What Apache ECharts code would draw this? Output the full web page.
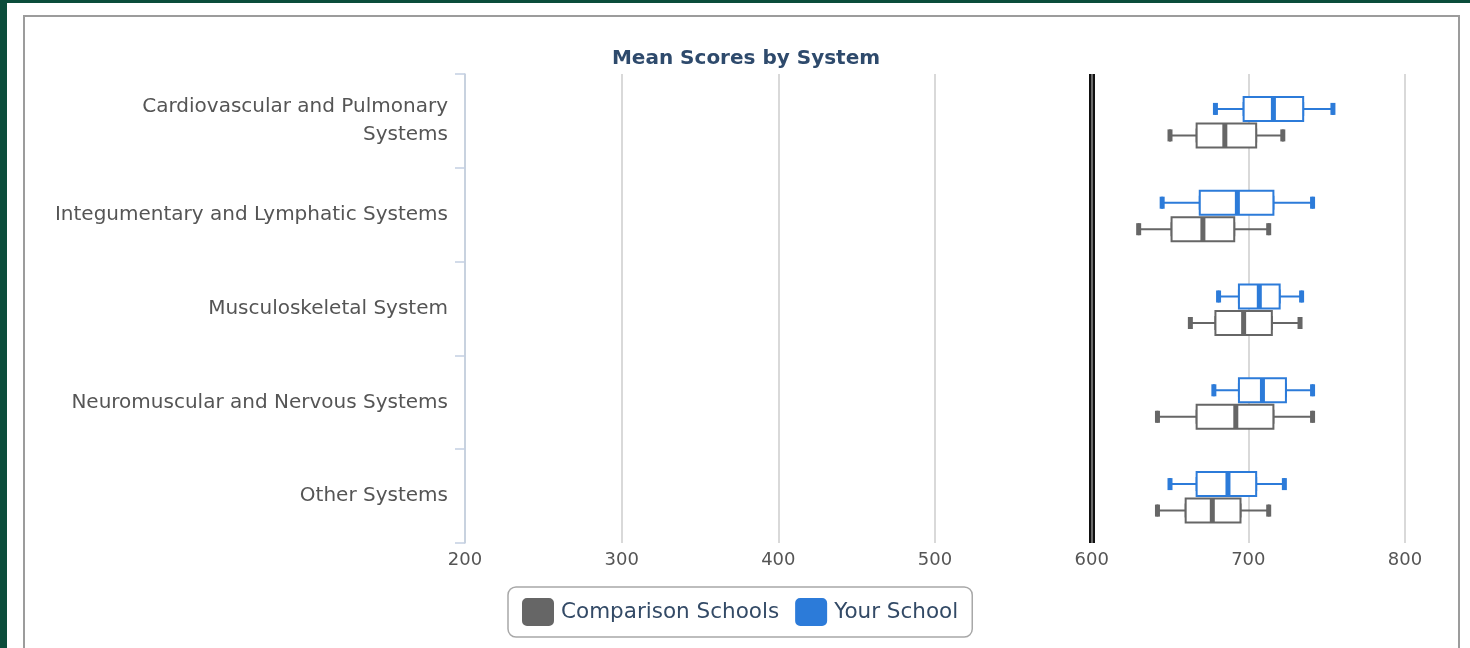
<!DOCTYPE html>
<html>
<head>
<meta charset="utf-8">
<script src="https://cdn.jsdelivr.net/npm/echarts@6/dist/echarts.min.js"></script>
<style>
  html, body { margin: 0; padding: 0; background: #0b4d3b; width: 1470px; height: 648px; overflow: hidden; }
  #sheet { position: absolute; left: 7px; top: 3px; right: 0; bottom: 0; background: #fff; }
  #frame { position: absolute; left: 23px; top: 15px; width: 1433px; height: 700px; border: 2px solid #9c9c9c; }
  #chart { position: absolute; left: 0; top: 0; width: 1470px; height: 648px; }
</style>
</head>
<body>
<div id="sheet"></div>
<div id="frame"></div>
<div id="chart"></div>
<script>
// categories, top to bottom
const systems = [
  'Cardiovascular and Pulmonary\nSystems',
  'Integumentary and Lymphatic Systems',
  'Musculoskeletal System',
  'Neuromuscular and Nervous Systems',
  'Other Systems'
];
// [min, Q1, median, Q3, max]
const yourSchool = [
  [679, 697, 716, 735, 754],
  [645, 669, 693, 716, 741],
  [681, 694, 707, 720, 734],
  [678, 694, 709, 724, 741],
  [650, 667, 687, 705, 723]
];
const comparison = [
  [650, 667, 685, 705, 722],
  [630, 651, 671, 691, 713],
  [663, 679, 697, 715, 733],
  [642, 667, 692, 716, 741],
  [642, 660, 677, 695, 713]
];
const xTicks = [200, 300, 400, 500, 600, 700, 800];
const cutScore = 600;

const BLUE = '#2c7bd9';
const GREY = '#666666';

// plot area in page pixels; blue and grey boxes sit in their own grids,
// shifted up / down so they stack inside each category band
const PLOT = { left: 465, right: 65, top: 74, bottom: 105 };
const SHIFT_BLUE = -12;
const SHIFT_GREY = 14.5;

function shifted(d) {
  return { left: PLOT.left, right: PLOT.right, top: PLOT.top + d, bottom: PLOT.bottom - d };
}

function hiddenX(g) {
  return { gridIndex: g, type: 'value', min: 200, max: 800, interval: 100, show: false };
}
function hiddenY(g) {
  return { gridIndex: g, type: 'category', data: systems, inverse: true, show: false };
}

function statPoints(rows, stat) {
  return rows.map((r, i) => [r[stat], systems[i]]);
}

// whiskers: a narrow boxplot (its short caps), hidden under the wide box
function whiskers(name, rows, color, xi, yi) {
  return {
    name: name, type: 'boxplot', xAxisIndex: xi, yAxisIndex: yi,
    data: rows, boxWidth: [12, 12], z: 1,
    itemStyle: { color: '#fff', borderColor: color, borderWidth: 2 }
  };
}
// the box itself, Q1..Q3 only
function boxes(name, rows, color, xi, yi) {
  return {
    name: name, type: 'boxplot', xAxisIndex: xi, yAxisIndex: yi,
    data: rows.map(r => [r[1], r[1], r[2], r[3], r[3]]),
    boxWidth: [24, 24], z: 2,
    itemStyle: { color: '#fff', borderColor: color, borderWidth: 2 }
  };
}
// thick median bars and whisker caps drawn as rect symbols on top
function overlay(name, rows, color, xi, yi) {
  return [
    { stat: 2, size: [5, 24] },
    { stat: 0, size: [5, 12] },
    { stat: 4, size: [5, 12] }
  ].map(m => ({
    name: name,
    type: 'scatter',
    xAxisIndex: xi, yAxisIndex: yi,
    data: statPoints(rows, m.stat),
    symbol: 'rect',
    symbolSize: m.size,
    itemStyle: { color: color, opacity: 1 },
    silent: true,
    z: 5
  }));
}

const legendIcon = 'path://M4,0 H26 A4,4 0 0 1 30,4 V22 A4,4 0 0 1 26,26 H4 A4,4 0 0 1 0,22 V4 A4,4 0 0 1 4,0 Z';

const chart = echarts.init(document.getElementById('chart'), null, { renderer: 'canvas' });
chart.setOption({
  backgroundColor: 'transparent',
  animation: false,
  textStyle: { fontFamily: 'DejaVu Sans' },
  title: {
    text: 'Mean Scores by System',
    left: 741, textAlign: 'center', top: 44,
    textStyle: { fontSize: 20, fontWeight: 'bold', color: '#2e4a6c', fontFamily: 'DejaVu Sans' }
  },
  legend: {
    data: [
      { name: 'Comparison Schools', icon: legendIcon },
      { name: 'Your School', icon: legendIcon }
    ],
    left: 508, bottom: 11,
    padding: [11, 14, 11, 14],
    itemGap: 16,
    itemWidth: 30, itemHeight: 26,
    borderColor: '#a8a8a8', borderWidth: 1.5, borderRadius: 8,
    textStyle: { fontSize: 21.5, color: '#334a66', fontFamily: 'DejaVu Sans', padding: [0, 0, 0, 3] }
  },
  grid: [PLOT, shifted(SHIFT_BLUE), shifted(SHIFT_GREY)],
  xAxis: [
    {
      gridIndex: 0, type: 'value', min: 200, max: 800, interval: 100,
      axisLine: { show: false },
      axisTick: { show: false },
      splitLine: { lineStyle: { color: '#cccccc', width: 1.5 } },
      axisLabel: { color: '#555', fontSize: 18, margin: 8, formatter: v => xTicks.includes(v) ? String(v) : '' }
    },
    hiddenX(1), hiddenX(2)
  ],
  yAxis: [
    {
      gridIndex: 0, type: 'category', data: systems, inverse: true,
      axisLine: { show: true, lineStyle: { color: '#c3d0e2', width: 1.5 } },
      axisTick: { show: true, length: 10, lineStyle: { color: '#c3d0e2', width: 1.5 } },
      axisLabel: { color: '#555', fontSize: 20, margin: 17, lineHeight: 28, align: 'right' }
    },
    hiddenY(1), hiddenY(2), hiddenY(1), hiddenY(2)
  ],
  series: [
    {
      // carries the reference line at the cut score across the main plot
      type: 'line', xAxisIndex: 0, yAxisIndex: 0, data: [],
      markLine: {
        silent: true, symbol: 'none', label: { show: false },
        data: [
          { xAxis: cutScore, lineStyle: { color: '#111', width: 6, type: 'solid' } },
          { xAxis: cutScore, lineStyle: { color: '#8a8a8a', width: 1.5, type: 'solid' } }
        ]
      }
    },
    whiskers('Your School', yourSchool, BLUE, 1, 1),
    whiskers('Comparison Schools', comparison, GREY, 2, 2),
    boxes('Your School', yourSchool, BLUE, 1, 3),
    boxes('Comparison Schools', comparison, GREY, 2, 4),
    ...overlay('Your School', yourSchool, BLUE, 1, 3),
    ...overlay('Comparison Schools', comparison, GREY, 2, 4)
  ]
});
</script>
</body>
</html>
